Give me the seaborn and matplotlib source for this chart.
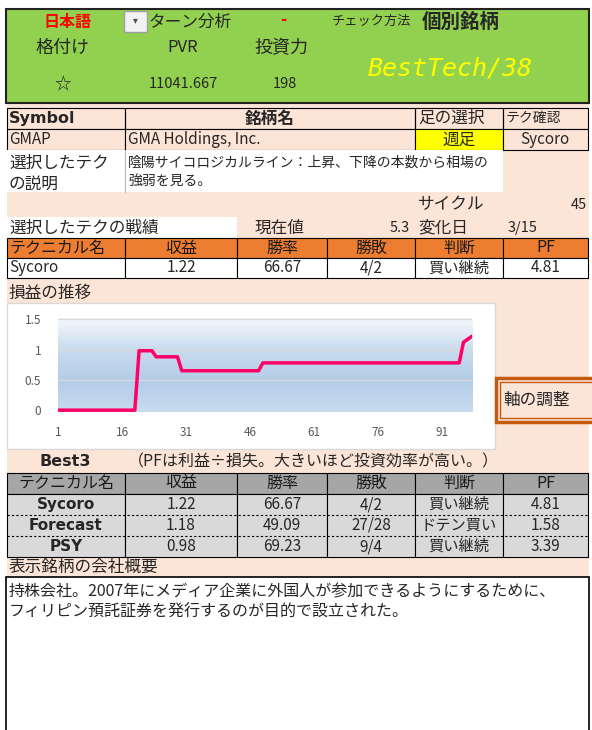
# %%
# BestTech 画面の再現 - 表 + 損益の推移チャート
import numpy as np
import pandas as pd
import matplotlib
matplotlib.use("Agg")
import matplotlib.pyplot as plt
from matplotlib.patches import Rectangle
from matplotlib.colors import LinearSegmentedColormap
import seaborn as sns

sns.set_style("white")
plt.rcParams['font.family'] = ['Noto Sans CJK JP', 'DejaVu Sans']

# データ
rating = '☆'
pvr = '11041.667'
power = '198'
best_tech = 'BestTech/38'
symbol = 'GMAP'
company = 'GMA Holdings, Inc.'
ashi = '週足'
tech_check = 'Sycoro'
tech_desc = '陰陽サイコロジカルライン：上昇、下降の本数から相場の\n強弱を見る。'
cycle = '45'
now_value = '5.3'
change_day = '3/15'

header_cols = ['テクニカル名', '収益', '勝率', '勝敗', '判断', 'PF']
cur_row = ['Sycoro', '1.22', '66.67', '4/2', '買い継続', '4.81']

# 損益の推移（折れ点）
pl_x = [1, 19, 20, 23, 24, 29, 30, 48, 49, 95, 96, 98]
pl_y = [0, 0, 0.98, 0.98, 0.88, 0.88, 0.65, 0.65, 0.78, 0.78, 1.12, 1.22]
x_ticks = [1, 16, 31, 46, 61, 76, 91]
y_ticks = [0, 0.5, 1, 1.5]

# Best3
best_names = ['Sycoro', 'Forecast', 'PSY']
best_profit = ['1.22', '1.18', '0.98']
best_winrate = ['66.67', '49.09', '69.23']
best_wl = ['4/2', '27/28', '9/4']
best_judge = ['買い継続', 'ドテン買い', '買い継続']
best_pf = ['4.81', '1.58', '3.39']

overview = ('持株会社。2007年にメディア企業に外国人が参加できるようにするために、\n'
            'フィリピン預託証券を発行するのが目的で設立された。')

# 色
green = '#92D050'
peach = '#FCE4D6'
orange = '#ED7D31'
col_x = [7, 125, 237, 327, 415, 503, 588]

fig = plt.figure(figsize=(5.92, 7.30), dpi=100)
ax0 = fig.add_axes([0, 0, 1, 1])
ax0.set_xlim(0, 592)
ax0.set_ylim(730, 0)
ax0.axis('off')


def box(x0, y0, x1, y1, fc='none', ec='black', lw=0.8, ls='-', z=1):
    ax0.add_patch(Rectangle((x0, y0), x1 - x0, y1 - y0, facecolor=fc,
                            edgecolor=ec, linewidth=lw, linestyle=ls, zorder=z))


def txt(x, y, s, size=11, ha='left', **kw):
    ax0.text(x, y, s, fontsize=size, ha=ha, va='center', zorder=5, **kw)


# 上部の緑エリア
box(6, 9, 589, 103, fc=green, ec='#222222', lw=1.5)
txt(67, 22, '日本語', 11.5, 'center', color='red', weight='bold')
box(124, 11, 147, 32, fc='#F2F2F2', ec='#A0A0A0', lw=1, z=3)
txt(135.5, 20, '▾', 7, 'center', color='#505050')
txt(148, 22, 'ターン分析', 12)
txt(283, 20, '-', 12, 'center', color='red', weight='bold')
txt(332, 21, 'チェック方法', 9.5)
txt(422, 22, '個別銘柄', 14, weight='bold')
txt(63, 48, '格付け', 13, 'center')
txt(183, 48, 'PVR', 12, 'center')
txt(281, 48, '投資力', 13, 'center')
txt(63, 84, rating, 12, 'center')
txt(183, 84, pvr, 10.5, 'center')
txt(285, 84, power, 10.5, 'center')
txt(450, 68, best_tech, 18, 'center', color='#FFFF00', style='italic',
    family='DejaVu Sans Mono')

# 下部の背景
box(7, 104, 589, 577, fc=peach, ec='none', lw=0, z=0)

# Symbol 行
for i, (a, b) in enumerate([(7, 125), (125, 415), (415, 503), (503, 588)]):
    box(a, 108, b, 129)
    box(a, 129, b, 150, fc='#FFFF00' if i == 2 else peach)
txt(9, 119, 'Symbol', 11.5, weight='bold', family='DejaVu Sans')
txt(270, 119, '銘柄名', 12, 'center', weight='bold')
txt(418, 118, '足の選択', 12)
txt(506, 118, 'テク確認', 10)
txt(9, 140, symbol, 11)
txt(128, 140, company, 11)
txt(459, 140, ashi, 12, 'center')
txt(545, 140, tech_check, 11, 'center')

# 説明
box(7, 150, 125, 192, fc='white', ec='none', lw=0)
box(125, 150, 503, 192, fc='white', ec='none', lw=0)
ax0.plot([125, 125], [150, 192], color='#BBBBBB', lw=0.8, zorder=2)
txt(9, 163, '選択したテク', 12)
txt(9, 184, 'の説明', 12)
ax0.text(128, 156, tech_desc, fontsize=10, ha='left', va='top',
         linespacing=1.35, zorder=5)

txt(418, 205, 'サイクル', 12)
txt(587, 205, cycle, 10.5, 'right')
box(7, 217, 237, 238, fc='white', ec='none', lw=0)
txt(9, 228, '選択したテクの戦績', 12)
txt(255, 228, '現在値', 12)
txt(410, 228, now_value, 10.5, 'right')
txt(418, 228, '変化日', 12)
txt(508, 228, change_day, 10.5)

# 現在のテク 表
for i in range(6):
    box(col_x[i], 238, col_x[i + 1], 258, fc=orange)
    box(col_x[i], 258, col_x[i + 1], 278, fc='white')
    cx = (col_x[i] + col_x[i + 1]) / 2
    txt(9 if i == 0 else cx, 248, header_cols[i], 11.5,
        'left' if i == 0 else 'center', color='#1A1A1A')
    txt(9 if i == 0 else cx, 268, cur_row[i], 11,
        'left' if i == 0 else 'center')

# 損益の推移
txt(9, 293, '損益の推移', 12)
box(7, 303, 495, 449, fc='white', ec='#D9D9D9', lw=1)

ax = fig.add_axes([58 / 592, (730 - 412) / 730, (472 - 58) / 592, (412 - 318) / 730])
ax.set_zorder(3)
grad = LinearSegmentedColormap.from_list('g', ['#F5F8FC', '#C9DBEE', '#B3CDE8', '#C8DBEF'])
ax.imshow(np.linspace(0, 1, 100).reshape(-1, 1), cmap=grad, aspect='auto',
          extent=[1, 98, -0.03, 1.52], zorder=0, origin='upper')
df_pl = pd.DataFrame({'x': pl_x, 'y': pl_y})
sns.lineplot(data=df_pl, x='x', y='y', ax=ax, color='#FF0066', linewidth=2.5, zorder=3)
ax.set_xlim(1, 98)
ax.set_ylim(-0.03, 1.52)
ax.set_xticks(x_ticks)
ax.set_yticks(y_ticks)
ax.set_yticklabels(['0', '0.5', '1', '1.5'])
for v in [0.5, 1, 1.5]:
    ax.axhline(v, color='#D9D9D9', lw=1, zorder=1)
ax.tick_params(axis='both', length=0, labelsize=8.5, labelcolor='#595959')
ax.tick_params(axis='y', pad=12)
ax.tick_params(axis='x', pad=10)
ax.set_xlabel('')
ax.set_ylabel('')
for s in ax.spines.values():
    s.set_visible(False)

# 軸の調整 ボタン
box(496, 378, 600, 422, fc=peach, ec='#C55A11', lw=2.5, z=2)
box(500, 382, 600, 418, fc='none', ec='#C55A11', lw=1, z=2)
txt(503, 400, '軸の調整', 12)

# Best3
txt(65, 462, 'Best3', 11.5, 'center', weight='bold', family='DejaVu Sans')
txt(128, 462, '（PFは利益÷損失。大きいほど投資効率が高い。）', 11.5)

rows = [best_names, best_profit, best_winrate, best_wl, best_judge, best_pf]
row_y = [494, 515, 536, 557]
for i in range(6):
    cx = (col_x[i] + col_x[i + 1]) / 2
    box(col_x[i], 473, col_x[i + 1], 494, fc='#A6A6A6')
    txt(cx, 483, header_cols[i], 11.5, 'center', color='#1A1A1A')
    box(col_x[i], 494, col_x[i + 1], 557, fc='#D9D9D9')
    for r in range(3):
        ym = (row_y[r] + row_y[r + 1]) / 2
        if i == 0:
            txt(cx, ym, rows[i][r], 11, 'center', weight='bold', family='DejaVu Sans')
        else:
            txt(cx, ym, rows[i][r], 11, 'center')
for yy in [515, 536]:
    ax0.plot([7, 588], [yy, yy], color='black', lw=0.8, ls=(0, (2, 2)), zorder=3)

# 会社概要
txt(9, 567, '表示銘柄の会社概要', 12)
box(6, 577, 589, 740, fc='white', ec='black', lw=1.2)
ax0.text(9, 583, overview, fontsize=11.5, ha='left', va='top',
         linespacing=1.3, zorder=5)

plt.savefig('out.png', dpi=100)
